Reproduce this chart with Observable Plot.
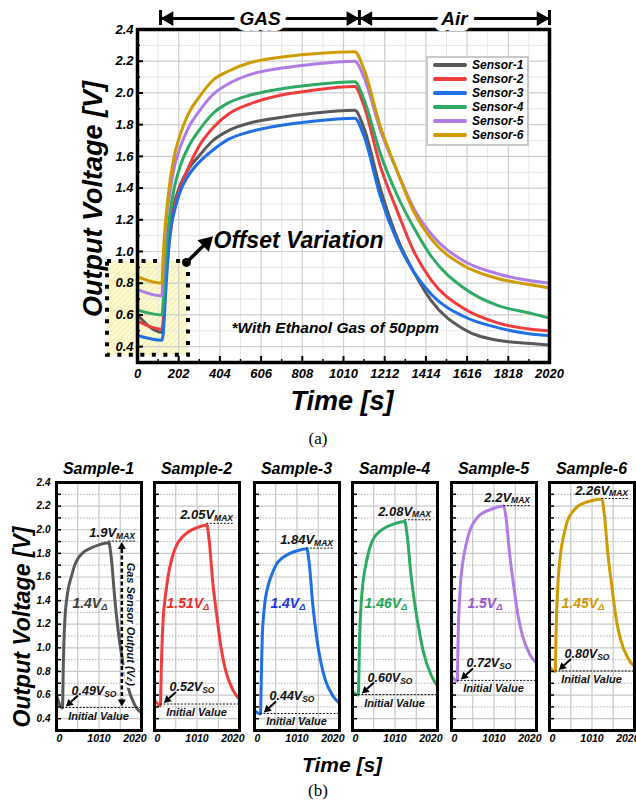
<!DOCTYPE html>
<html><head><meta charset="utf-8">
<script src="https://cdn.jsdelivr.net/npm/d3@7"></script>
<script src="https://cdn.jsdelivr.net/npm/@observablehq/plot@0.6"></script>
<style>
body{margin:0;background:#fff;}
#root{position:relative;width:636px;height:801px;overflow:hidden;font-family:"Liberation Sans",Arial,sans-serif;background:#fff;}
.lbl{position:absolute;white-space:nowrap;line-height:1;transform:translate(-50%,-50%);font-weight:bold;font-style:italic;color:#000;}
.cap{position:absolute;white-space:nowrap;line-height:1;transform:translate(-50%,-50%);font-family:"Liberation Serif","Times New Roman",serif;font-size:17px;color:#000;}
svg.p{position:absolute;overflow:visible;max-width:none;}
.legend{position:absolute;left:426px;top:56px;width:99px;height:86px;border:2px solid #c9c9c9;background:#fff;}
.legend .row{position:absolute;left:0;height:14px;width:100%;}
.legend .sw{position:absolute;left:5px;top:5px;width:34px;height:4px;border-radius:2px;}
.legend .tx{position:absolute;left:44px;top:0;font-size:12px;font-weight:bold;font-style:italic;line-height:14px;}
</style></head><body><div id="root"></div>
<script>
// ---------------- DATA ----------------
const timeS   = [0, 120, 125, 140, 160, 180, 210, 250, 300, 370, 450, 550, 700, 850, 1065, 1110, 1190, 1275, 1355, 1440, 1600, 1765, 1930, 2020];
const sensor1 = [0.60, 0.49, 0.52, 0.88, 1.15, 1.30, 1.42, 1.52, 1.60, 1.70, 1.765, 1.81, 1.845, 1.87, 1.89, 1.78, 1.40, 1.08, 0.87, 0.69, 0.51, 0.44, 0.42, 0.41];
const sensor2 = [0.56, 0.51, 0.55, 0.85, 1.10, 1.27, 1.40, 1.53, 1.66, 1.78, 1.87, 1.93, 1.985, 2.015, 2.04, 1.92, 1.54, 1.25, 1.00, 0.82, 0.64, 0.55, 0.51, 0.50];
const sensor3 = [0.47, 0.44, 0.47, 0.78, 1.12, 1.25, 1.38, 1.48, 1.56, 1.64, 1.71, 1.755, 1.795, 1.82, 1.84, 1.73, 1.35, 1.06, 0.87, 0.73, 0.59, 0.52, 0.48, 0.47];
const sensor4 = [0.63, 0.60, 0.66, 1.00, 1.25, 1.40, 1.54, 1.66, 1.76, 1.87, 1.94, 1.985, 2.025, 2.05, 2.07, 1.96, 1.62, 1.35, 1.15, 0.97, 0.77, 0.66, 0.61, 0.58];
const sensor5 = [0.76, 0.72, 0.85, 1.18, 1.38, 1.53, 1.66, 1.78, 1.88, 1.99, 2.06, 2.115, 2.155, 2.18, 2.20, 2.10, 1.77, 1.50, 1.27, 1.11, 0.94, 0.86, 0.815, 0.80];
const sensor6 = [0.84, 0.80, 0.95, 1.22, 1.45, 1.60, 1.74, 1.87, 1.97, 2.08, 2.14, 2.19, 2.225, 2.245, 2.26, 2.15, 1.79, 1.50, 1.25, 1.08, 0.91, 0.83, 0.79, 0.77];
const sensorValues = [sensor1, sensor2, sensor3, sensor4, sensor5, sensor6];
const sensorNames  = ["Sensor-1", "Sensor-2", "Sensor-3", "Sensor-4", "Sensor-5", "Sensor-6"];
const sensorColors = ["#595959", "#f03c3c", "#1f6fe5", "#2eaa63", "#b07be4", "#d09b00"];

const xTicksA = [0, 202, 404, 606, 808, 1010, 1212, 1414, 1616, 1818, 2020];
const yTicksA = [0.4, 0.6, 0.8, 1.0, 1.2, 1.4, 1.6, 1.8, 2.0, 2.2, 2.4];
const phases  = [{name: "GAS", t1: 113, t2: 1088}, {name: "Air", t1: 1088, t2: 2020}];
const offsetBox   = {t1: -147, t2: 250, v1: 0.345, v2: 0.937};
const offsetArrow = {t1: 240, v1: 0.931, t2: 338, v2: 1.055};
const offsetNote  = {t: 373, v: 1.07, label: "Offset Variation"};
const gasNote     = {t: 461, v: 0.515, label: "*With Ethanol Gas of 50ppm"};

const sampleNames = ["Sample-1", "Sample-2", "Sample-3", "Sample-4", "Sample-5", "Sample-6"];
const vMax      = [1.9, 2.05, 1.84, 2.08, 2.2, 2.26];
const vMaxText  = ["1.9", "2.05", "1.84", "2.08", "2.2", "2.26"];
const vSO       = [0.49, 0.52, 0.44, 0.60, 0.72, 0.80];
const vSOText   = ["0.49", "0.52", "0.44", "0.60", "0.72", "0.80"];
const vDeltaText = ["1.4", "1.51", "1.4", "1.46", "1.5", "1.45"];
const deltaColors = ["#3c3c3c", "#f02a2a", "#1838e6", "#22a65c", "#9a55d2", "#d09a00"];
const xTickLabelsB = ["0", "1010", "2020"];
const yTicksB = [0.4,0.5,0.6,0.7,0.8,0.9,1.0,1.1,1.2,1.3,1.4,1.5,1.6,1.7,1.8,1.9,2.0,2.1,2.2,2.3,2.4];
const sampleSpan = 1730;   // time shown in each small panel
const peakTime = 1065, dipTime = 120, outputArrowTime = 1340;

// ---------------- LAYOUT ----------------
const FONT = '"Liberation Sans", Arial, sans-serif';
const root = document.getElementById("root");
const bold = {fontWeight: "bold", fontStyle: "italic"};

function addLabel(cls, text, x, y, css = {}) {
  const d = document.createElement("div");
  d.className = cls; d.textContent = text;
  d.style.left = x + "px"; d.style.top = y + "px";
  Object.assign(d.style, css);
  root.appendChild(d);
  return d;
}

function arrowHead(g, x1, y1, x2, y2, len = 7, wid = 4.5) {
  const a = Math.atan2(y2 - y1, x2 - x1);
  const bx = x2 - len * Math.cos(a), by = y2 - len * Math.sin(a);
  const px = -Math.sin(a) * wid, py = Math.cos(a) * wid;
  g.append("path").attr("d", `M${x2},${y2}L${bx + px},${by + py}L${bx - px},${by - py}Z`).attr("fill", "#000");
  return [bx, by];
}

// ---------------- PANEL (a) ----------------
const rowsA = sensorNames.flatMap((name, i) => timeS.map((t, j) => ({sensor: name, t, v: sensorValues[i][j]})));
const minorX = xTicksA.slice(0, -1).map(d => d + 101);
const minorY = [0.3,0.5,0.7,0.9,1.1,1.3,1.5,1.7,1.9,2.1,2.3];

const plotA = Plot.plot({
  width: 636, height: 425,
  marginLeft: 137, marginRight: 87, marginTop: 29, marginBottom: 63,
  style: {fontFamily: FONT, background: "transparent", overflow: "visible"},
  x: {domain: [0, 2020]},
  y: {domain: [0.3, 2.4]},
  color: {domain: sensorNames, range: sensorColors},
  marks: [
    Plot.rect([offsetBox], {x1: "t1", x2: "t2", y1: "v1", y2: "v2", fill: "url(#hatchA)"}),
    Plot.ruleX(minorX, {stroke: "#e6e6e6", strokeWidth: 1}),
    Plot.ruleY(minorY, {stroke: "#e6e6e6", strokeWidth: 1}),
    Plot.ruleX(xTicksA.slice(1, -1), {stroke: "#cdcdcd", strokeWidth: 1.2}),
    Plot.ruleY(yTicksA.slice(0, -1), {stroke: "#cdcdcd", strokeWidth: 1.2}),
    Plot.rect([offsetBox], {x1: "t1", x2: "t2", y1: "v1", y2: "v2", fill: "none", stroke: "#000", strokeWidth: 4, strokeDasharray: "4,7.5"}),
    Plot.line(rowsA, {x: "t", y: "v", z: "sensor", stroke: "sensor", strokeWidth: 3, curve: "monotone-x"}),
    Plot.frame({stroke: "#000", strokeWidth: 3.5}),
    Plot.axisX(minorX, {tickSize: -3, tickFormat: () => "", strokeWidth: 1.5, label: null}),
    Plot.axisX(xTicksA, {tickSize: -6, tickPadding: 12, strokeWidth: 2, fontSize: 13, ...bold, label: null, tickFormat: d => String(d)}),
    Plot.axisY([0.5,0.7,0.9,1.1,1.3,1.5,1.7,1.9,2.1,2.3], {tickSize: -3, tickFormat: () => "", strokeWidth: 1.5, label: null}),
    Plot.axisY(yTicksA, {tickSize: -6, tickPadding: 10, strokeWidth: 2, fontSize: 13, ...bold, label: null, tickFormat: d => d.toFixed(1)}),
    // header arrows
    Plot.link(phases, {x1: "t1", x2: "t2", y1: 2.469, y2: 2.469, strokeWidth: 3, stroke: "#000"}),
    Plot.ruleX([113, 1088, 2020], {y1: 2.425, y2: 2.52, strokeWidth: 3, stroke: "#000"}),
    Plot.dot(phases, {x: "t1", y: 2.469, symbol: "triangle", rotate: -90, r: 5.5, fill: "#000", dx: 8.5}),
    Plot.dot(phases, {x: "t2", y: 2.469, symbol: "triangle", rotate: 90, r: 5.5, fill: "#000", dx: -8.5}),
    Plot.text(phases, {x: d => (d.t1 + d.t2) / 2, y: 2.469, text: "name", fontSize: 19, ...bold, fill: "#000", stroke: "#fff", strokeWidth: 12}),
    // annotations
    Plot.link([offsetArrow], {x1: "t1", y1: "v1", x2: "t2", y2: "v2", strokeWidth: 3.5, stroke: "#000"}),
    Plot.dot([offsetArrow], {x: "t1", y: "v1", r: 4.5, fill: "#000"}),
    Plot.dot([offsetArrow], {x: "t2", y: "v2", symbol: "triangle", rotate: 45, r: 6, fill: "#000"}),
    Plot.text([offsetNote], {x: "t", y: "v", text: "label", textAnchor: "start", fontSize: 23, ...bold, fill: "#000"}),
    Plot.text([gasNote], {x: "t", y: "v", text: "label", textAnchor: "start", fontSize: 15.5, ...bold, fill: "#000"})
  ]
});
plotA.classList.add("p");
plotA.style.left = "0px"; plotA.style.top = "0px";
{
  const defs = d3.select(plotA).insert("defs", ":first-child");
  const pat = defs.append("pattern").attr("id", "hatchA").attr("patternUnits", "userSpaceOnUse")
    .attr("width", 4).attr("height", 4).attr("patternTransform", "rotate(45)");
  pat.append("rect").attr("width", 4).attr("height", 4).attr("fill", "#fdfad2");
  pat.append("line").attr("x1", 0).attr("y1", 0).attr("x2", 0).attr("y2", 4).attr("stroke", "#f1ea9c").attr("stroke-width", 1.4);
}
root.appendChild(plotA);

// legend
{
  const lg = document.createElement("div");
  lg.className = "legend";
  sensorNames.forEach((name, i) => {
    const r = document.createElement("div");
    r.className = "row"; r.style.top = (0 + i * 13.9) + "px";
    const sw = document.createElement("div"); sw.className = "sw"; sw.style.background = sensorColors[i];
    const tx = document.createElement("div"); tx.className = "tx"; tx.textContent = name;
    r.appendChild(sw); r.appendChild(tx); lg.appendChild(r);
  });
  root.appendChild(lg);
}

addLabel("lbl", "Output Voltage [V]", 93, 199, {fontSize: "27px", transform: "translate(-50%,-50%) rotate(-90deg)"});
addLabel("lbl", "Time [s]", 342, 401, {fontSize: "27px"});
addLabel("cap", "(a)", 318, 438);

// ---------------- PANEL (b) ----------------
const frameLefts = [56, 154, 254, 352, 451, 549];
const frameTop = 482, frameW = 85, frameH = 248;

function sampleNotes(i) {
  return (index, scales, values, dims) => {
    const X = scales.x, Y = scales.y;
    const L = dims.marginLeft, R = dims.width - dims.marginRight;
    const g = d3.create("svg:g").attr("font-family", FONT).attr("font-weight", "bold").attr("font-style", "italic").attr("fill", "#111");
    // maximum
    const ym = Y(vMax[i]);
    g.append("line").attr("x1", X(peakTime)).attr("x2", R - 6).attr("y1", ym).attr("y2", ym)
      .attr("stroke", "#111").attr("stroke-width", 1).attr("stroke-dasharray", "2,1.5");
    const tm = g.append("text").attr("x", R - 6).attr("y", ym - 4).attr("text-anchor", "end").attr("font-size", 13);
    tm.append("tspan").text(vMaxText[i] + "V");
    tm.append("tspan").attr("font-size", 8.5).attr("dy", 1.5).text("MAX");
    // delta
    const td = g.append("text").attr("x", L + 34).attr("y", Y(1.4) + 8).attr("text-anchor", "middle").attr("font-size", 14).attr("fill", deltaColors[i]);
    td.append("tspan").text(vDeltaText[i] + "V");
    td.append("tspan").attr("font-size", 9.5).attr("dy", 2).text("Δ");
    // initial value
    const yi = Y(vSO[i]);
    g.append("line").attr("x1", X(dipTime)).attr("x2", R).attr("y1", yi).attr("y2", yi)
      .attr("stroke", "#111").attr("stroke-width", 1).attr("stroke-dasharray", "2,1.5");
    g.append("text").attr("x", (L + R) / 2).attr("y", yi + 12).attr("text-anchor", "middle").attr("font-size", 11).text("Initial Value");
    const ts = g.append("text").attr("x", L + 38).attr("y", yi - 13).attr("text-anchor", "middle").attr("font-size", 12.5);
    ts.append("tspan").text(vSOText[i] + "V");
    ts.append("tspan").attr("font-size", 8.5).attr("dy", 2).text("SO");
    const ax1 = L + 22, ay1 = yi - 12, ax2 = X(dipTime) + 4, ay2 = yi - 1;
    const [bx, by] = arrowHead(g, ax1, ay1, ax2, ay2, 7, 4);
    g.append("line").attr("x1", ax1).attr("y1", ay1).attr("x2", bx).attr("y2", by).attr("stroke", "#000").attr("stroke-width", 2);
    if (i === 0) {
      const xo = X(outputArrowTime), yt = Y(vMax[0]) + 1, yb = Y(vSO[0]) - 1;
      const [tx1, ty1] = arrowHead(g, xo, yt + 10, xo, yt, 7, 4);
      const [tx2, ty2] = arrowHead(g, xo, yb - 10, xo, yb, 7, 4);
      g.append("text").attr("transform", `translate(${xo + 9},${(yt + yb) / 2}) rotate(90)`)
        .attr("text-anchor", "middle").attr("dy", "0.35em").attr("font-size", 11)
        .attr("stroke", "#fff").attr("stroke-width", 5).attr("paint-order", "stroke")
        .call(t => { t.append("tspan").text("Gas Sensor Output (V"); t.append("tspan").attr("font-size", 8).text("Δ"); t.append("tspan").text(")"); });
      g.append("line").attr("x1", xo).attr("x2", xo).attr("y1", ty1).attr("y2", ty2)
        .attr("stroke", "#000").attr("stroke-width", 2.5).attr("stroke-dasharray", "4,2.5");
    }
    return g.node();
  };
}

function samplePlot(i) {
  const mL = 30, mR = 14, mT = 4, mB = 24;
  const rows = timeS.map((t, j) => ({t, v: sensorValues[i][j]}));
  const tickText = (lab, pos, anchor, dx) => Plot.text([lab], {x: pos, text: d => d, frameAnchor: "bottom", dy: 11, dx, textAnchor: anchor, fontSize: 10.5, ...bold, fill: "#000"});
  const p = Plot.plot({
    width: frameW + mL + mR, height: frameH + mT + mB,
    marginLeft: mL, marginRight: mR, marginTop: mT, marginBottom: mB,
    style: {fontFamily: FONT, background: "transparent", overflow: "visible"},
    x: {domain: [0, sampleSpan], axis: null},
    y: {domain: [0.3, 2.4]},
    marks: [
      Plot.ruleX([sampleSpan / 4, sampleSpan / 2, sampleSpan * 3 / 4], {stroke: "#c8c8c8", strokeWidth: 1.2}),
      Plot.ruleY(yTicksB.filter((d, k) => k % 2 === 0 && d < 2.4), {stroke: "#c8c8c8", strokeWidth: 1.2}),
      Plot.ruleY(yTicksB.filter((d, k) => k % 2 === 1), {stroke: "#b0b0b0", strokeWidth: 1, strokeDasharray: "1.5,1.5"}),
      Plot.line(rows, {x: "t", y: "v", stroke: sensorColors[i], strokeWidth: 3, curve: "monotone-x", clip: true}),
      Plot.frame({stroke: "#000", strokeWidth: 3}),
      Plot.axisY(yTicksB, {tickSize: -5, tickPadding: 11, strokeWidth: 1.5, fontSize: 10, ...bold, label: null,
        tickFormat: (d, k) => (i === 0 && Math.round(d * 10) % 2 === 0) ? d.toFixed(1) : ""}),
      tickText(xTickLabelsB[0], 0, "start", 0),
      tickText(xTickLabelsB[1], sampleSpan / 2, "middle", 0),
      tickText(xTickLabelsB[2], sampleSpan, "end", 5),
      sampleNotes(i)
    ]
  });
  p.classList.add("p");
  p.style.left = (frameLefts[i] - mL) + "px";
  p.style.top = (frameTop - mT) + "px";
  root.appendChild(p);
  addLabel("lbl", sampleNames[i], frameLefts[i] + frameW / 2, 469, {fontSize: "16px"});
}
for (let i = 0; i < 6; i++) samplePlot(i);

addLabel("lbl", "Output Voltage [V]", 22, 627, {fontSize: "23px", transform: "translate(-50%,-50%) rotate(-90deg)"});
addLabel("lbl", "Time [s]", 342, 764, {fontSize: "21px"});
addLabel("cap", "(b)", 318, 790);
</script></body></html>
